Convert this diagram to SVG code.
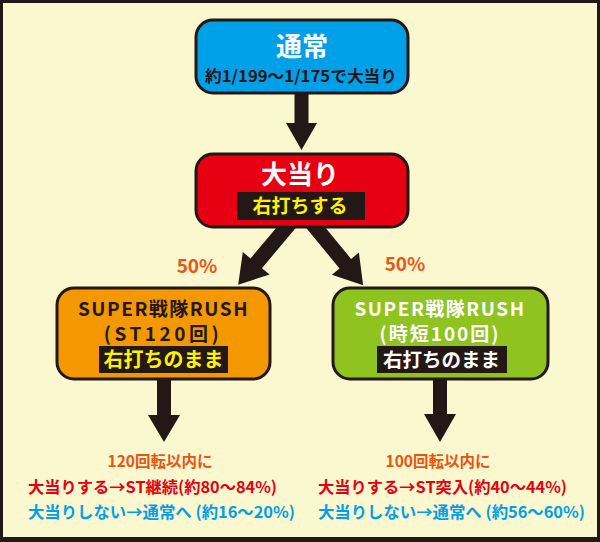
<svg xmlns="http://www.w3.org/2000/svg" width="600" height="542" viewBox="0 0 600 542">
<style>
text{font-family:"Noto Sans CJK JP","Noto Sans",sans-serif;font-weight:bold;text-anchor:middle}
.box{stroke:#231815;stroke-width:3}
.band{fill:#231815}
.arrow{fill:#231815}
.pct{fill:#EA5514;font-size:19px}
.res{font-size:16px;text-anchor:start}
</style>
<rect x="0" y="0" width="600" height="542" fill="#231815"/>
<rect x="3" y="3" width="594" height="534" fill="#FBF7CE"/>
<g id="connectors">
<polygon class="arrow" points="294.5,90 308.5,90 308.5,123 317,123 301.5,150 286,123 294.5,123"/>
<polygon class="arrow" transform="translate(291,222) rotate(40.1)" points="-7.5,0 7.5,0 7.5,54 17.5,54 0,82 -17.5,54 -7.5,54"/>
<polygon class="arrow" transform="translate(311,222) rotate(-39.5)" points="-7.5,0 7.5,0 7.5,54 17.5,54 0,82 -17.5,54 -7.5,54"/>
<polygon class="arrow" points="157,376 171,376 171,415 180,415 164,442 148,415 157,415"/>
<polygon class="arrow" points="433,376 447,376 447,414 456,414 440,442 424,414 433,414"/>
<text class="pct" x="197" y="273">50%</text>
<text class="pct" x="405" y="271">50%</text>
</g>
<g id="node-normal">
<rect class="box" x="196" y="20" width="212" height="73" rx="17" fill="#00A0E9"/>
<text x="302" y="56" font-size="26" fill="#FFFFFF">通常</text>
<text x="301" y="82" font-size="16" fill="#231815" textLength="192" lengthAdjust="spacingAndGlyphs">約1/199～1/175で大当り</text>
</g>
<g id="node-jackpot">
<rect class="box" x="196" y="154" width="212" height="73" rx="17" fill="#E60012"/>
<text x="300" y="184" font-size="26" fill="#FFFFFF">大当り</text>
<rect class="band" x="237" y="192" width="128" height="28"/>
<text x="300" y="213" font-size="19" fill="#FFF100">右打ちする</text>
</g>
<g id="node-st">
<rect class="box" x="57" y="288" width="213" height="91" rx="17" fill="#F39800"/>
<text x="163.5" y="316" font-size="19" fill="#231815" letter-spacing="1.5">SUPER戦隊RUSH</text>
<text x="163" y="341" font-size="19" fill="#231815" letter-spacing="3.5">(ST120回)</text>
<rect class="band" x="99" y="346" width="129" height="27"/>
<text x="163.5" y="367" font-size="20" fill="#FFF100">右打ちのまま</text>
</g>
<g id="node-jitan">
<rect class="box" x="333" y="288" width="215" height="91" rx="17" fill="#8FC31F"/>
<text x="440" y="316" font-size="19" fill="#FFFFFF" letter-spacing="1.5">SUPER戦隊RUSH</text>
<text x="440" y="341" font-size="19" fill="#FFFFFF" letter-spacing="2">(時短100回)</text>
<rect class="band" x="377" y="346" width="130" height="27"/>
<text x="441.5" y="367" font-size="19.5" fill="#FFFFFF">右打ちのまま</text>
</g>
<g id="result-st">
<text x="160" y="467" font-size="15.5" fill="#EA5514">120回転以内に</text>
<text class="res" x="28" y="493" fill="#E60012" textLength="249" lengthAdjust="spacingAndGlyphs">大当りする→ST継続(約80～84%)</text>
<text class="res" x="28" y="518" fill="#00A0E9" textLength="267" lengthAdjust="spacingAndGlyphs">大当りしない→通常へ (約16～20%)</text>
</g>
<g id="result-jitan">
<text x="438" y="467" font-size="15.5" fill="#EA5514">100回転以内に</text>
<text class="res" x="318" y="493" fill="#E60012" textLength="249" lengthAdjust="spacingAndGlyphs">大当りする→ST突入(約40～44%)</text>
<text class="res" x="318" y="518" fill="#00A0E9" textLength="267" lengthAdjust="spacingAndGlyphs">大当りしない→通常へ (約56～60%)</text>
</g>
</svg>
